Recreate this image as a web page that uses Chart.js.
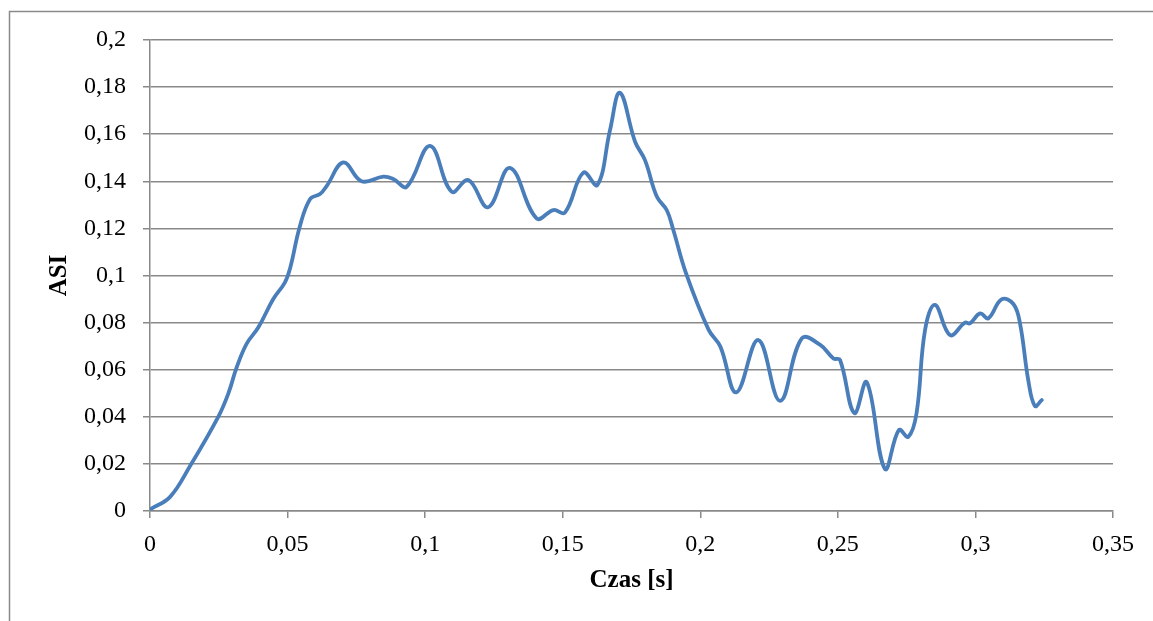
<!DOCTYPE html>
<html>
<head>
<meta charset="utf-8">
<script src="https://cdn.jsdelivr.net/npm/chart.js@4/dist/chart.umd.min.js"></script>
<style>
  html, body { margin: 0; padding: 0; background: #ffffff; overflow: hidden; }
  canvas { display: block; }
</style>
</head>
<body>
<canvas id="c" width="1153" height="621"></canvas>
<script>
// Time samples [s] and ASI values
const czas = [
  0.0005, 0.0073, 0.0145, 0.0248, 0.0285, 0.0315, 0.0351, 0.0394, 0.0448, 0.0490,
  0.0509, 0.0545, 0.0582, 0.0618, 0.0642, 0.0703, 0.0769, 0.0848, 0.0884, 0.0933,
  0.1018, 0.1096, 0.1157, 0.1229, 0.1308, 0.1405, 0.1466, 0.1508, 0.1575, 0.1626,
  0.1672, 0.1708, 0.1763, 0.1799, 0.1842, 0.1878, 0.1902, 0.1948, 0.2030, 0.2073,
  0.2131, 0.2211, 0.2290, 0.2369, 0.2436, 0.2484, 0.2508, 0.2560, 0.2605, 0.2671,
  0.2722, 0.2756, 0.2786, 0.2817, 0.2853, 0.2908, 0.2962, 0.2980, 0.3017, 0.3047,
  0.3095, 0.3138, 0.3162, 0.3192, 0.3216, 0.3241
];
const asi = [
  0.0010, 0.0060, 0.0190, 0.0400, 0.0500, 0.0610, 0.0710, 0.0780, 0.0900, 0.0970,
  0.1030, 0.1210, 0.1325, 0.1346, 0.1380, 0.1480, 0.1400, 0.1420, 0.1410, 0.1377,
  0.1550, 0.1356, 0.1405, 0.1290, 0.1457, 0.1243, 0.1278, 0.1267, 0.1437, 0.1384,
  0.1618, 0.1776, 0.1568, 0.1490, 0.1335, 0.1278, 0.1193, 0.1010, 0.0770, 0.0698,
  0.0504, 0.0726, 0.0468, 0.0733, 0.0705, 0.0648, 0.0641, 0.0416, 0.0547, 0.0179,
  0.0344, 0.0315, 0.0415, 0.0769, 0.0875, 0.0747, 0.0800, 0.0797, 0.0839, 0.0818,
  0.0899, 0.0879, 0.0797, 0.0556, 0.0446, 0.0471
];

// Axis ranges and tick steps
const xTicks = [0, 0.05, 0.1, 0.15, 0.2, 0.25, 0.3, 0.35];
const yTicks = [0, 0.02, 0.04, 0.06, 0.08, 0.1, 0.12, 0.14, 0.16, 0.18, 0.2];

const points = czas.map((t, i) => ({ x: t, y: asi[i] }));

// Decimal comma formatting
const fmt = v => {
  const r = Math.round(v * 1000) / 1000;
  return String(r).replace('.', ',');
};

const axisGray = '#898989';
const serif = '"Liberation Serif", "Times New Roman", serif';

const frame = {
  id: 'frame',
  beforeDraw(chart) {
    const ctx = chart.ctx;
    ctx.save();
    ctx.fillStyle = '#ffffff';
    ctx.fillRect(0, 0, chart.width, chart.height);
    ctx.strokeStyle = '#8a8a8a';
    ctx.lineWidth = 1.5;
    ctx.strokeRect(9.5, 11.5, 2000, 2000);
    ctx.restore();
  }
};

new Chart(document.getElementById('c'), {
  type: 'line',
  data: {
    datasets: [{
      data: points,
      borderColor: '#4a7ebb',
      borderWidth: 3.8,
      pointRadius: 0,
      fill: false,
      tension: 0.4,
      borderCapStyle: 'round',
      borderJoinStyle: 'round'
    }]
  },
  options: {
    responsive: false,
    animation: false,
    devicePixelRatio: 1,
    layout: { padding: { left: 0, right: 40, top: 40, bottom: 0 } },
    plugins: { legend: { display: false }, tooltip: { enabled: false } },
    scales: {
      x: {
        type: 'linear',
        min: xTicks[0],
        max: xTicks[xTicks.length - 1],
        afterBuildTicks: s => { s.ticks = xTicks.map(v => ({ value: v })); },
        afterFit: s => { s.height = 110; },
        border: { display: true, color: axisGray, width: 1.5 },
        grid: { drawOnChartArea: false, drawTicks: true, tickLength: 7, tickColor: axisGray, lineWidth: 1.5 },
        ticks: {
          color: '#000000',
          font: { family: serif, size: 24 },
          padding: 12,
          maxRotation: 0,
          autoSkip: false,
          callback: v => fmt(v)
        },
        title: {
          display: true,
          text: 'Czas [s]',
          color: '#000000',
          font: { family: serif, size: 25, weight: 'bold' },
          padding: { top: 0, bottom: 25 }
        }
      },
      y: {
        type: 'linear',
        min: yTicks[0],
        max: yTicks[yTicks.length - 1],
        afterBuildTicks: s => { s.ticks = yTicks.map(v => ({ value: v })); },
        afterFit: s => { s.width = 150; },
        border: { display: true, color: axisGray, width: 1.5 },
        grid: { drawOnChartArea: true, drawTicks: true, tickLength: 7, color: axisGray, tickColor: axisGray, lineWidth: 1.5 },
        ticks: {
          color: '#000000',
          font: { family: serif, size: 24 },
          padding: 17,
          autoSkip: false,
          callback: v => fmt(v)
        },
        title: {
          display: true,
          text: 'ASI',
          color: '#000000',
          font: { family: serif, size: 25, weight: 'bold' },
          padding: { top: 45, bottom: 0 }
        }
      }
    }
  },
  plugins: [frame]
});
</script>
</body>
</html>
